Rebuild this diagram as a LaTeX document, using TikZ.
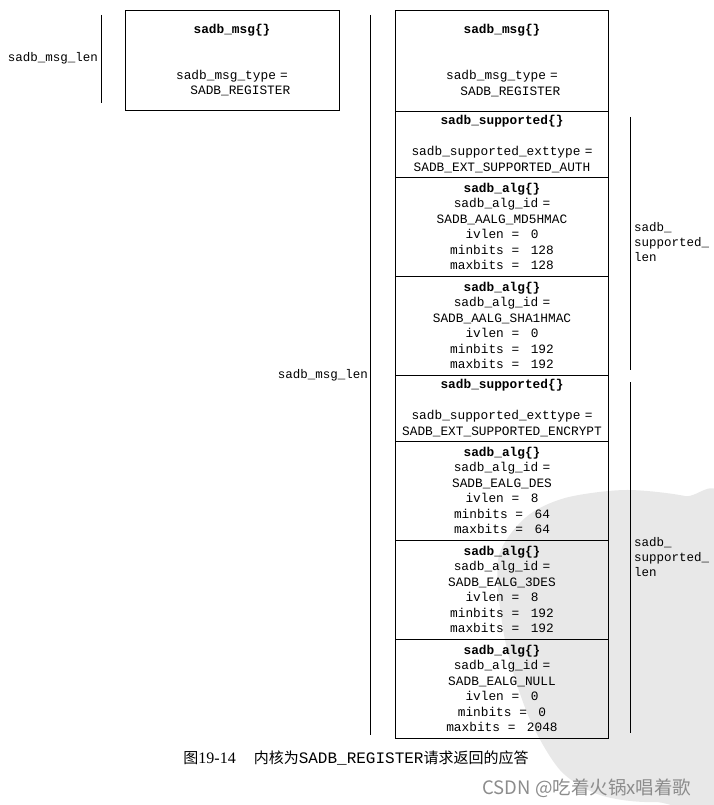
\documentclass[tikz,border=0pt]{standalone}
\usepackage{fontspec}
\setmainfont{Liberation Serif}
\setmonofont{Liberation Mono}
\newfontfamily\cjk{Noto Sans CJK SC}
\newcommand\eqto{\hspace{0.6em}=\hspace{0.9em}}
\usetikzlibrary{positioning}

\begin{document}
\begin{tikzpicture}[x=1pt, y=-1pt,
        field/.style={draw, line width=0.8pt, outer sep=0pt, inner sep=0pt,
            minimum width=213pt, text width=209pt, align=center,
            font=\fontsize{12.8}{15.4}\selectfont\ttfamily},
        lenlabel/.style={inner sep=0pt, align=left, font=\fontsize{12.5}{15}\selectfont\ttfamily},
        bracket/.style={line width=0.8pt}]
        % Page and seal watermark
        \useasboundingbox[fill=white] (0,0) rectangle (713,805);
        \fill[black!9] plot[smooth cycle] coordinates {(498,560) (525,518) (565,498) (625,490) (685,496) (725,510) (730,790) (655,802) (600,795) (560,770) (528,715) (505,640)};

        % Request (left)
        \node[field, minimum width=214pt, minimum height=100pt] (req) at (232,60)
            {\textbf{sadb\_msg\{\}}\\[30.8pt] sadb\_msg\_type =\\ \hspace*{1.3em}SADB\_REGISTER};

        % Reply (right column)
        \node[field, minimum height=101pt, anchor=north] (msg) at (502,10)
            {\textbf{sadb\_msg\{\}}\\[30.8pt] sadb\_msg\_type =\\ \hspace*{1.3em}SADB\_REGISTER};
        \node[field, minimum height=66pt, below=0pt of msg] (auth)
            {\textbf{sadb\_supported\{\}}\\[16pt] sadb\_supported\_exttype =\\ SADB\_EXT\_SUPPORTED\_AUTH};
        \node[field, minimum height=99pt, below=0pt of auth] (md5)
            {\textbf{sadb\_alg\{\}}\\ sadb\_alg\_id =\\ SADB\_AALG\_MD5HMAC\\ ivlen\eqto 0\\ minbits\eqto 128\\ maxbits\eqto 128};
        \node[field, minimum height=99pt, below=0pt of md5] (sha1)
            {\textbf{sadb\_alg\{\}}\\ sadb\_alg\_id =\\ SADB\_AALG\_SHA1HMAC\\ ivlen\eqto 0\\ minbits\eqto 192\\ maxbits\eqto 192};
        \node[field, minimum height=66pt, below=0pt of sha1] (encr)
            {\textbf{sadb\_supported\{\}}\\[16pt] sadb\_supported\_exttype =\\ SADB\_EXT\_SUPPORTED\_ENCRYPT};
        \node[field, minimum height=99pt, below=0pt of encr] (des)
            {\textbf{sadb\_alg\{\}}\\ sadb\_alg\_id =\\ SADB\_EALG\_DES\\ ivlen\eqto 8\\ minbits\eqto 64\\ maxbits\eqto 64};
        \node[field, minimum height=99pt, below=0pt of des] (tdes)
            {\textbf{sadb\_alg\{\}}\\ sadb\_alg\_id =\\ SADB\_EALG\_3DES\\ ivlen\eqto 8\\ minbits\eqto 192\\ maxbits\eqto 192};
        \node[field, minimum height=99pt, below=0pt of tdes] (null)
            {\textbf{sadb\_alg\{\}}\\ sadb\_alg\_id =\\ SADB\_EALG\_NULL\\ ivlen\eqto 0\\ minbits\eqto 0\\ maxbits\eqto 2048};

        % Length brackets
        \coordinate (reqtop) at ([xshift=-24pt, yshift=-5pt]req.north west);
        \coordinate (reqbot) at ([xshift=-24pt, yshift=7pt]req.south west);
        \coordinate (msgtop) at ([xshift=-25pt, yshift=-5pt]msg.north west);
        \coordinate (msgbot) at ([xshift=-25pt, yshift=3pt]null.south west);
        \coordinate (authtop) at ([xshift=22pt, yshift=-6pt]auth.north east);
        \coordinate (authbot) at ([xshift=22pt, yshift=5pt]sha1.south east);
        \coordinate (encrtop) at ([xshift=22pt, yshift=-7pt]encr.north east);
        \coordinate (encrbot) at ([xshift=22pt, yshift=5pt]null.south east);
        \draw[bracket] (reqtop) -- (reqbot);
        \draw[bracket] (msgtop) -- (msgbot);
        \draw[bracket] (authtop) -- (authbot);
        \draw[bracket] (encrtop) -- (encrbot);
        \node[lenlabel, anchor=east] (reqlen) at (98,58) {sadb\_msg\_len};
        \node[lenlabel, anchor=east] (msglen) at (368,375) {sadb\_msg\_len};
        \node[lenlabel, anchor=north west] (authlen) at (634,222) {sadb\_\\supported\_\\len};
        \node[lenlabel, anchor=north west] (encrlen) at (634,537) {sadb\_\\supported\_\\len};

        % Caption and site mark
        \node[inner sep=0pt, font=\fontsize{15}{18}\selectfont] (caption) at (356,758)
            {{\cjk 图}{\fontsize{16}{18}\selectfont 19-14}\hspace{18pt}{\cjk 内核为}{\ttfamily\fontsize{16}{18}\selectfont SADB\_REGISTER}{\cjk 请求返回的应答}};
        \node[inner sep=0pt, text=black!45, font=\cjk\fontsize{18.5}{20}\selectfont] (site) at (587,788) {CSDN @吃着火锅x唱着歌};
\end{tikzpicture}
\end{document}
